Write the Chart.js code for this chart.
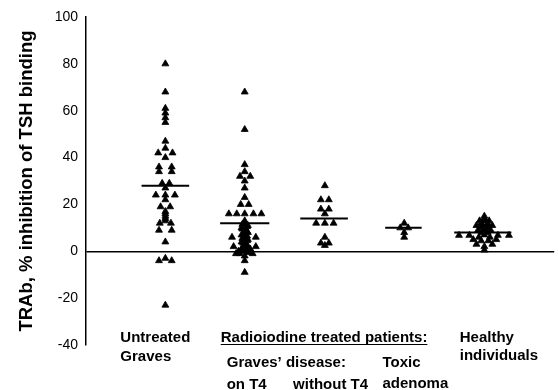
<!DOCTYPE html>
<html><head><meta charset="utf-8">
<script src="https://cdn.jsdelivr.net/npm/chart.js@4/dist/chart.umd.min.js"></script>
<style>html,body{margin:0;padding:0;background:#fff}canvas{display:block}</style>
</head><body>
<canvas id="c" width="559" height="390"></canvas>
<script>
// ---- data ----
const categories = ['Untreated Graves', 'Graves\u2019 disease: on T4', 'Graves\u2019 disease: without T4', 'Toxic adenoma', 'Healthy individuals'];
const yTicks = [-40, -20, 0, 20, 40, 60, 80, 100];

const untreatedGraves = [80,68,61,59,57,55,47,44,42,42,40,36,34,36,34,29,29,27,24,24,24,22,19,19,17,16,15,14,13,12,12,9,9,4,-3,-4,-4,-23];
const untreatedJitter = [0,0,0,0,0,0,0,0,-0.09,0.09,0,-0.08,-0.08,0.08,0.08,-0.04,0.05,0,-0.12,0,0.12,0,-0.06,0.06,0,0,0,0,0,-0.07,0.07,-0.08,0.08,0,0,-0.08,0.08,0];

const gravesOnT4 = [68,52,37,34,32,32,30,27,23,20,20,16,16,16,16,16,13,12,11.5,11,10.5,10,9.5,9,8.5,8,7.5,7,6.5,6,6,6,5.5,5,4.5,4,3.5,3,2.5,2,2,2,1.5,1,1,0.5,0,0,-0.5,-1,-1,-1,-2,-4,-9];
const gravesOnT4Jitter = [0,0,0,0,-0.06,0.07,0,0,0,-0.05,0.05,-0.2,-0.1,0,0.11,0.21,0,0,-0.03,0.04,0.03,-0.04,-0.03,0,0.03,0.04,-0.02,-0.04,0.03,0,-0.16,0.14,-0.03,0.04,0.03,-0.04,-0.02,0,0.03,0.04,-0.14,0.14,-0.03,-0.04,0.07,0.03,0,-0.08,0.04,-0.06,-0.11,0.1,0,0,0];

const gravesWithoutT4 = [28,22,22,18,18,16,12,12,12,6,3.5,3.5,2.5];
const gravesWithoutT4Jitter = [0.01,-0.04,0.06,-0.04,0.06,0.01,-0.1,0.01,0.12,0.01,-0.04,0.06,0.01];

const toxicAdenoma = [12,10,10,8,6];
const toxicAdenomaJitter = [0.01,-0.04,0.06,0.01,0.01];

const healthy = [15,14,13,13,13,12,12,11,11,11,11,10,10,9,9,9,8,8,6.8,6.8,6.8,6.8,7,6,6,5,4.5,4.5,5,3,3,2,0.5];
const healthyJitter = [0.02,0.02,-0.04,0.02,0.08,-0.02,0.06,-0.08,0,0.06,0.12,-0.03,0.07,-0.06,0.02,0.1,-0.01,0.06,-0.3,-0.17,0.19,0.33,0.02,-0.05,0.09,-0.12,-0.02,0.07,0.17,-0.08,0.12,0.02,0.02];

const medians = [28, 12, 14, 10, 8];

// ---- styles ----
const medianHalfWidth = [0.3, 0.31, 0.3, 0.23, 0.36];
const FONT = '"Liberation Sans", Arial, Helvetica, sans-serif';
Chart.defaults.font.family = FONT;
Chart.defaults.color = '#000';

const groups = [
  [untreatedGraves, untreatedJitter],
  [gravesOnT4, gravesOnT4Jitter],
  [gravesWithoutT4, gravesWithoutT4Jitter],
  [toxicAdenoma, toxicAdenomaJitter],
  [healthy, healthyJitter]
];

const datasets = [];
groups.forEach(([vals, jit], g) => {
  datasets.push({
    type: 'scatter',
    label: categories[g],
    data: vals.map((v, i) => ({x: g + 1 + jit[i], y: v})),
    pointStyle: 'triangle',
    pointRadius: 4,
    pointBorderWidth: 0.8,
    backgroundColor: '#000',
    borderColor: '#000'
  });
});
medians.forEach((m, g) => {
  datasets.push({
    type: 'line',
    label: categories[g] + ' median',
    data: [{x: g + 1 - medianHalfWidth[g], y: m}, {x: g + 1 + medianHalfWidth[g], y: m}],
    borderColor: '#000',
    borderWidth: 2,
    pointRadius: 0,
    fill: false
  });
});

const labelPlugin = {
  id: 'groupLabels',
  afterDraw(chart) {
    const {ctx} = chart;
    const xs = chart.scales.x;
    const px = v => xs.getPixelForValue(v);
    ctx.save();
    ctx.fillStyle = '#000';
    ctx.strokeStyle = '#000';
    ctx.font = 'bold 15px ' + FONT;
    ctx.textAlign = 'left';
    ctx.textBaseline = 'alphabetic';
    const items = [
      ['Untreated', px(1) - 45, 342],
      ['Graves', px(1) - 45, 361],
      ['Radioiodine treated patients:', px(2) - 24, 342, true],
      ['Graves\u2019 disease:', px(2) - 18, 367],
      ['on T4', px(2) - 18, 389],
      ['without T4', px(3) - 31, 389],
      ['Toxic', px(4) - 21, 367],
      ['adenoma', px(4) - 21, 388],
      ['Healthy', px(5) - 23, 342],
      ['individuals', px(5) - 23, 360]
    ];
    items.forEach(([t, x, y, ul]) => {
      ctx.fillText(t, x, y);
      if (ul) {
        const w = ctx.measureText(t).width;
        ctx.lineWidth = 1.2;
        ctx.beginPath();
        ctx.moveTo(x, y + 2.5);
        ctx.lineTo(x + w, y + 2.5);
        ctx.stroke();
      }
    });
    ctx.restore();
  }
};

new Chart(document.getElementById('c'), {
  data: {datasets},
  options: {
    responsive: false,
    animation: false,
    devicePixelRatio: 1,
    layout: {padding: {top: 17, bottom: 45, left: 0, right: 0}},
    plugins: {legend: {display: false}, tooltip: {enabled: false}},
    scales: {
      x: {type: 'linear', min: 0, max: 5.9, display: false},
      y: {
        type: 'linear', min: -40, max: 100,
        afterFit: s => { s.width = 86; },
        afterBuildTicks: s => { s.ticks = yTicks.map(v => ({value: v})); },
        ticks: {font: {size: 14}, color: '#000', padding: 8},
        grid: {
          drawTicks: false,
          lineWidth: 1.5,
          color: c => (c.tick && c.tick.value === 0) ? '#000' : 'rgba(0,0,0,0)'
        },
        border: {display: true, color: '#000', width: 1.5},
        title: {
          display: true,
          text: 'TRAb, % inhibition of TSH binding',
          font: {size: 18.5, weight: 'bold'},
          color: '#000',
          padding: {top: 16, bottom: 0}
        }
      }
    }
  },
  plugins: [labelPlugin]
});
</script>
</body></html>
